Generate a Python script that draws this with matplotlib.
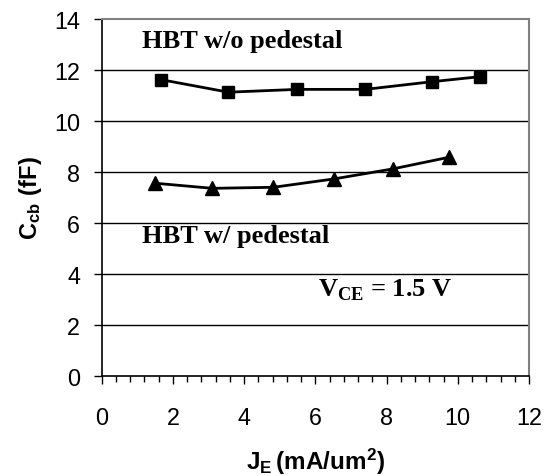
import matplotlib
matplotlib.use("Agg")
import matplotlib.pyplot as plt
from matplotlib.ticker import MultipleLocator

plt.rcParams['mathtext.fontset'] = 'custom'
plt.rcParams['mathtext.rm'] = 'Liberation Serif:bold'
plt.rcParams['mathtext.bf'] = 'Liberation Serif:bold'
plt.rcParams['mathtext.sf'] = 'Liberation Sans:bold'

# Data
je_wo = [1.67, 3.56, 5.49, 7.40, 9.27, 10.63]
ccb_wo = [11.62, 11.13, 11.24, 11.24, 11.54, 11.74]
je_w = [1.50, 3.11, 4.82, 6.53, 8.17, 9.76]
ccb_w = [7.56, 7.36, 7.40, 7.73, 8.12, 8.58]
x_ticks = [0, 2, 4, 6, 8, 10, 12]
y_ticks = [0, 2, 4, 6, 8, 10, 12, 14]

W, H = 554, 477
fig = plt.figure(figsize=(W / 100, H / 100), dpi=100)
ax = fig.add_axes([101.7 / W, 1 - 377 / H, (529 - 101.7) / W, (377 - 20) / H])

for y in y_ticks[1:-1]:
    ax.axhline(y, color='black', lw=1.0, zorder=1)

ax.plot(je_wo, ccb_wo, color='black', lw=2, marker='s', ms=8.5, zorder=3)
ax.plot(je_w, ccb_w, color='black', lw=2, marker='^', ms=9.5, zorder=3)

ax.set_xlim(0, 12)
ax.set_ylim(0, 14)
ax.set_xticks(x_ticks)
ax.set_yticks(y_ticks)
ax.xaxis.set_minor_locator(MultipleLocator(0.4))

ax.tick_params(axis='x', which='major', direction='out', length=6, width=1,
               pad=15.5, labelsize=16.8, colors='black')
ax.tick_params(axis='x', which='minor', direction='out', length=4.5, width=1)
ax.tick_params(axis='y', which='major', direction='out', length=6, width=1,
               pad=9.5, labelsize=16.8)
for lab in ax.get_xticklabels() + ax.get_yticklabels():
    lab.set_family('Liberation Sans')

for s in ['left', 'bottom']:
    ax.spines[s].set_color('black')
    ax.spines[s].set_linewidth(1.2)
for s in ['top', 'right']:
    ax.spines[s].set_color('#808080')
    ax.spines[s].set_linewidth(1.5)

ax.set_xlabel(r'$\mathsf{J_E\,(mA/um^2)}$', fontsize=17.5, labelpad=12)
ax.set_ylabel(r'$\mathsf{C_{cb}\ (fF)}$', fontsize=17, labelpad=7)

ax.text(1.12, 12.89, 'HBT w/o pedestal', family='Liberation Serif',
        weight='bold', fontsize=19, va='baseline', ha='left')
ax.text(1.12, 5.24, 'HBT w/ pedestal', family='Liberation Serif',
        weight='bold', fontsize=19, va='baseline', ha='left')
ax.text(6.07, 3.15, r'V$_{\mathrm{CE}}$ = 1.5 V', family='Liberation Serif',
        weight='bold', fontsize=19, va='baseline', ha='left')

fig.savefig('out.png', dpi=100)
